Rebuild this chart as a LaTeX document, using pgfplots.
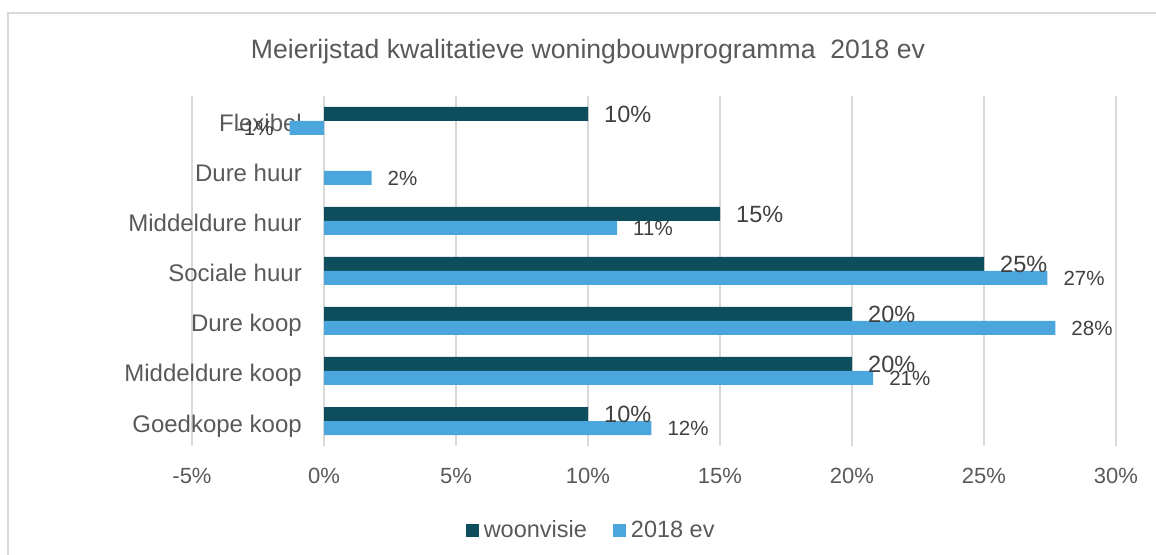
\documentclass[border=0pt]{standalone}
\usepackage{fontspec}
\setmainfont{Liberation Sans}
\usepackage{pgfplots}
\pgfplotsset{compat=1.18}
\definecolor{darkteal}{HTML}{0E4D5C}
\definecolor{lightblue}{HTML}{4BA6DE}
\definecolor{labelgray}{HTML}{595959}
\definecolor{datagray}{HTML}{404040}
\definecolor{gridgray}{HTML}{D9D9D9}
\begin{document}
\begin{tikzpicture}
\useasboundingbox (0,0) rectangle (1156pt,554pt);
\draw[gridgray, line width=1.2pt] (8pt,-5pt) -- (8pt,541pt) -- (1170pt,541pt);
\begin{axis}[
  at={(192pt,108pt)}, anchor=south west,
  scale only axis, width=924pt, height=350pt,
  /pgf/number format/assume math mode=true,
  xbar, bar width=14pt,
  xmin=-5, xmax=30, ymin=-0.5, ymax=6.5,
  xtick={-5,0,5,10,15,20,25,30},
  xticklabel={\pgfmathprintnumber{\tick}\%},
  ytick={0,1,2,3,4,5,6},
  yticklabels={Goedkope koop, Middeldure koop, Dure koop, Sociale huur, Middeldure huur, Dure huur, Flexibel},
  axis line style={draw=none},
  tick style={draw=none},
  major tick length=0pt,
  xmajorgrids, grid style={color=gridgray, line width=1.3pt},
  xticklabel style={font=\fontsize{22}{26}\selectfont, text=labelgray, inner sep=0pt, yshift=-22pt},
  yticklabel style={font=\fontsize{24}{28}\selectfont, text=labelgray, inner sep=0pt, anchor=base east, xshift=110pt, yshift=-11pt},
  title={Meierijstad kwalitatieve woningbouwprogramma\ \ 2018 ev},
  title style={at={(axis description cs:0.4286,1.0914)}, anchor=base, font=\fontsize{26.6}{31}\selectfont, text=labelgray, inner sep=0pt},
  legend style={at={(axis description cs:0.432,-0.24)}, anchor=center, draw=none, legend columns=2,
    font=\fontsize{23.5}{28}\selectfont, text=labelgray,
    /tikz/every even column/.append style={column sep=24pt}},
  legend image code/.code={\fill[#1] (0pt,-6.5pt) rectangle (13pt,6.5pt); \path (16pt,0pt);},
  point meta=explicit,
  nodes near coords={\pgfmathprintnumber{\pgfplotspointmeta}\%},
  nodes near coords align={horizontal},
]
\addplot[fill=darkteal, draw=none, bar shift=7pt,
  every node near coord/.append style={font=\fontsize{23.5}{28}\selectfont, text=datagray, inner xsep=16pt, inner ysep=0pt}]
  coordinates {(10,0) [10] (20,1) [20] (20,2) [20] (25,3) [25] (15,4) [15] (10,6) [10]};
\addlegendentry{woonvisie}
\addplot[fill=lightblue, draw=none, bar shift=-7pt,
  every node near coord/.append style={font=\fontsize{20.5}{24}\selectfont, text=datagray, inner xsep=16pt, inner ysep=0pt}]
  coordinates {(12.4,0) [12] (20.8,1) [21] (27.7,2) [28] (27.4,3) [27] (11.1,4) [11] (1.8,5) [2] (-1.3,6) [-1]};
\addlegendentry{2018 ev}
\end{axis}
\end{tikzpicture}
\end{document}
